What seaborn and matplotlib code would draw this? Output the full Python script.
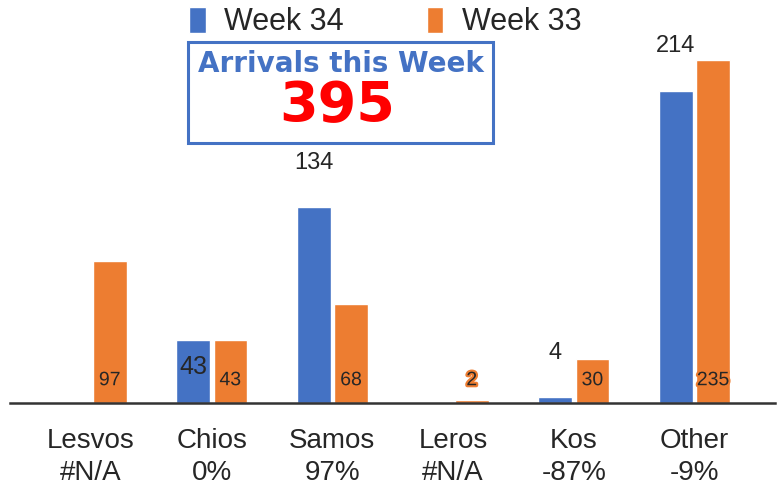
import numpy as np
import pandas as pd
import matplotlib
matplotlib.use('Agg')
import matplotlib.pyplot as plt
import matplotlib.patheffects as pe
from matplotlib.patches import Rectangle
import seaborn as sns

# data
islands = ['Lesvos', 'Chios', 'Samos', 'Leros', 'Kos', 'Other']
week34 = [np.nan, 43, 134, np.nan, 4, 214]
week33 = [97, 43, 68, 2, 30, 235]
change = ['#N/A', '0%', '97%', '#N/A', '-87%', '-9%']
weeks = ['Week 34', 'Week 33']

BLUE = '#4472C4'
ORANGE = '#ED7D31'

df = pd.DataFrame({
    'island': islands * 2,
    'week': [weeks[0]] * len(islands) + [weeks[1]] * len(islands),
    'arrivals': week34 + week33,
})
df['arrivals'] = df['arrivals'].fillna(0)  # #N/A -> empty bar

sns.set_style('white')
plt.rcParams['font.family'] = ['Liberation Sans', 'DejaVu Sans']

fig = plt.figure(figsize=(7.8, 4.95), dpi=100)
ax = fig.add_axes([0.013, 0.186, 0.981, 0.814])

sns.barplot(data=df, x='island', y='arrivals', hue='week', hue_order=weeks,
            palette=[BLUE, ORANGE], width=0.62, gap=0.1, ax=ax, saturation=1)

ax.set_xlim(-0.67, len(islands) - 0.33)
ax.set_ylim(0, 276)
ax.set_xlabel('')
ax.set_ylabel('')
ax.set_yticks([])
for s in ['top', 'left', 'right']:
    ax.spines[s].set_visible(False)
ax.spines['bottom'].set_color('#333333')
ax.spines['bottom'].set_linewidth(1.8)

ax.set_xticks(range(len(islands)))
ax.set_xticklabels([f'{n}\n{c}' for n, c in zip(islands, change)], fontsize=20,
                   linespacing=1.3)
ax.tick_params(axis='x', length=0, pad=18)

# value labels
blue_bars, orange_bars = ax.containers[0], ax.containers[1]
for bar, v, name in zip(blue_bars, week34, islands):
    if np.isnan(v):
        continue
    cx = bar.get_x() + bar.get_width() / 2
    if name == 'Chios':
        ax.annotate(f'{v:.0f}', (cx, v), xytext=(0, -19), textcoords='offset points',
                    ha='center', va='center', fontsize=18)
    else:
        ax.annotate(f'{v:.0f}', (cx, v), xytext=(0, 32), textcoords='offset points',
                    ha='center', va='center', fontsize=17)
for bar, v in zip(orange_bars, week33):
    cx = bar.get_x() + bar.get_width() / 2
    ax.annotate(f'{v}', (cx, 0), xytext=(0, 16), textcoords='offset points',
                ha='center', va='center', fontsize=14,
                path_effects=[pe.withStroke(linewidth=3, foreground=ORANGE)])

# legend
handles, labels = ax.get_legend_handles_labels()
ax.legend(handles, labels, loc='center', bbox_to_anchor=(0.494, 0.955),
          bbox_transform=fig.transFigure, ncol=2, frameon=False, fontsize=22,
          handlelength=0.55, handleheight=0.9, handletextpad=0.6, columnspacing=2.7)

# total box
total = int(np.nansum(week34))
fig.patches.append(Rectangle((188 / 780, 1 - 143 / 495), 305 / 780, 101 / 495,
                             transform=fig.transFigure, fill=True, facecolor='white',
                             edgecolor=BLUE, linewidth=2.2, zorder=5))
fig.text(341 / 780, 1 - 64 / 495, 'Arrivals this Week', ha='center', va='center',
         fontsize=20, fontweight='heavy', color=BLUE, family='DejaVu Sans', zorder=6)
fig.text(337 / 780, 1 - 106 / 495, f'{total}', ha='center', va='center',
         fontsize=40, fontweight='bold', color='#FF0000', family='DejaVu Sans', zorder=6)

fig.savefig('out.png', dpi=100)
